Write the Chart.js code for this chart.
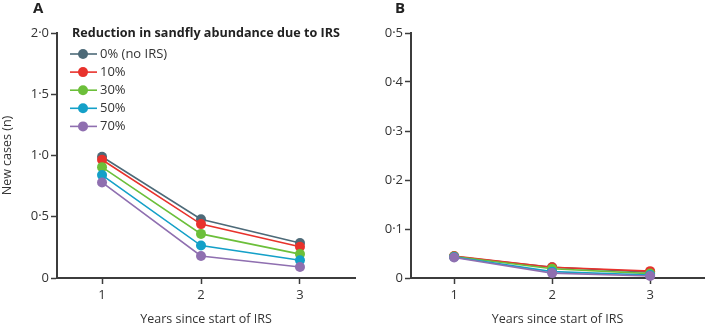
<!DOCTYPE html>
<html><head><meta charset="utf-8">
<script src="https://cdn.jsdelivr.net/npm/chart.js@4/dist/chart.umd.min.js"></script>
<style>
html,body{margin:0;padding:0;background:#fff;}
#wrap{position:relative;width:709px;height:324px;}
.pane{position:absolute;top:0;height:324px;}
#pa{left:0;width:360px;}
#pb{left:360px;width:349px;}
</style></head>
<body><div id="wrap"><div class="pane" id="pa"><canvas id="ca"></canvas></div><div class="pane" id="pb"><canvas id="cb"></canvas></div></div>
<script>
const years = [1, 2, 3];
const seriesLabels = ['0% (no IRS)', '10%', '30%', '50%', '70%'];
const seriesColors = ['#4d6a78', '#e8322c', '#6cbf3a', '#14a0c8', '#8f6fb0'];
// Panel A: new cases (n)
const a0 = [0.99, 0.48, 0.285];
const a10 = [0.965, 0.44, 0.255];
const a30 = [0.905, 0.36, 0.195];
const a50 = [0.84, 0.265, 0.145];
const a70 = [0.78, 0.18, 0.09];
// Panel B
const b0 = [0.044, 0.022, 0.012];
const b10 = [0.045, 0.022, 0.014];
const b30 = [0.044, 0.019, 0.009];
const b50 = [0.043, 0.013, 0.006];
const b70 = [0.042, 0.010, 0.004];
const yTicksA = [0, 0.5, 1, 1.5, 2];
const yTicksB = [0, 0.1, 0.2, 0.3, 0.4, 0.5];

const FONT = "'Open Sans', 'Noto Sans', sans-serif";
const TXT = '#333333';
const AX = '#3c3c3c';

function fmt(v, dec){ return v === 0 ? '0' : v.toFixed(dec).replace('.', '\u00B7'); }

function makeDatasets(arrs){
  return arrs.map((d, i) => ({
    label: seriesLabels[i],
    data: years.map((x, j) => ({x: x, y: d[j]})),
    borderColor: seriesColors[i],
    backgroundColor: seriesColors[i],
    pointBackgroundColor: seriesColors[i],
    pointBorderColor: seriesColors[i],
    borderWidth: 1.6,
    pointRadius: 5,
    pointBorderWidth: 0,
    pointHoverRadius: 5,
    tension: 0,
    clip: false,
    order: arrs.length - i
  }));
}

const panelLetter = {
  id: 'panelLetter',
  afterDraw(chart, args, opts){
    const c = chart.ctx;
    c.save();
    c.fillStyle = '#222';
    c.font = "bold 15px " + FONT;
    c.textBaseline = 'middle';
    c.textAlign = 'left';
    c.fillText(opts.text, opts.x, opts.y);
    c.restore();
  }
};

const lineLegend = {
  id: 'lineLegend',
  afterDraw(chart, args, opts){
    if (!opts.show) return;
    const c = chart.ctx;
    c.save();
    c.fillStyle = '#222';
    c.font = "bold 13px " + FONT;
    c.textBaseline = 'middle';
    c.fillText(opts.title, 72, 33, 268);
    c.font = "13px " + FONT;
    chart.data.datasets.forEach((ds, i) => {
      const y = 54 + i * 18.1;
      c.strokeStyle = ds.borderColor;
      c.lineWidth = 1.6;
      c.beginPath(); c.moveTo(70, y); c.lineTo(97, y); c.stroke();
      c.fillStyle = ds.borderColor;
      c.beginPath(); c.arc(83, y, 5, 0, Math.PI * 2); c.fill();
      c.fillStyle = TXT;
      c.fillText(ds.label, 100, y);
    });
    c.restore();
  }
};

function makeChart(id, arrs, yMax, yStep, yTicks, dec, yWidth, opts){
  return new Chart(document.getElementById(id), {
    type: 'line',
    data: { datasets: makeDatasets(arrs) },
    plugins: [panelLetter, lineLegend],
    options: {
      responsive: true,
      maintainAspectRatio: false,
      animation: false,
      events: [],
      layout: { padding: { top: 33, right: opts.right, bottom: 0, left: 0 } },
      plugins: {
        legend: { display: false },
        tooltip: { enabled: false },
        panelLetter: { text: opts.letter, x: opts.lx, y: 9 },
        lineLegend: { show: opts.legend, title: 'Reduction in sandfly abundance due to IRS' }
      },
      scales: {
        x: {
          type: 'linear',
          min: opts.xmin, max: opts.xmax,
          afterBuildTicks(s){ s.ticks = years.map(v => ({value: v})); },
          afterFit(s){ s.height = 46; },
          border: { display: true, color: AX, width: 2 },
          grid: { display: true, drawOnChartArea: false, drawTicks: true, tickLength: 6, tickColor: AX, tickWidth: 1.5 },
          ticks: { color: TXT, font: { family: FONT, size: 13 }, padding: 3, maxRotation: 0, callback: v => String(v) },
          title: { display: true, text: 'Years since start of IRS', color: TXT, font: { family: FONT, size: 12.5 }, padding: { top: 0, bottom: -3 } }
        },
        y: {
          min: 0, max: yMax,
          afterBuildTicks(s){ s.ticks = yTicks.map(v => ({value: v})); },
          afterFit(s){ s.width = yWidth; },
          border: { display: true, color: AX, width: 2 },
          grid: { display: true, drawOnChartArea: false, drawTicks: true, tickLength: 6, tickColor: AX, tickWidth: 1.5 },
          ticks: { color: TXT, font: { family: FONT, size: 13 }, padding: 2, callback: v => fmt(v, dec) },
          title: { display: opts.ytitle, text: 'New cases (n)', color: TXT, font: { family: FONT, size: 12.5 }, padding: { top: 0, bottom: 0 } }
        }
      }
    }
  });
}

makeChart('ca', [a0, a10, a30, a50, a70], 2, 0.5, yTicksA, 1, 57,
  { right: 5, xmin: 0.545, xmax: 3.556, letter: 'A', lx: 33, legend: true, ytitle: true });
makeChart('cb', [b0, b10, b30, b50, b70], 0.5, 0.1, yTicksB, 1, 51,
  { right: 0, xmin: 0.56, xmax: 3.55, letter: 'B', lx: 35, legend: false, ytitle: false });
</script></body></html>
